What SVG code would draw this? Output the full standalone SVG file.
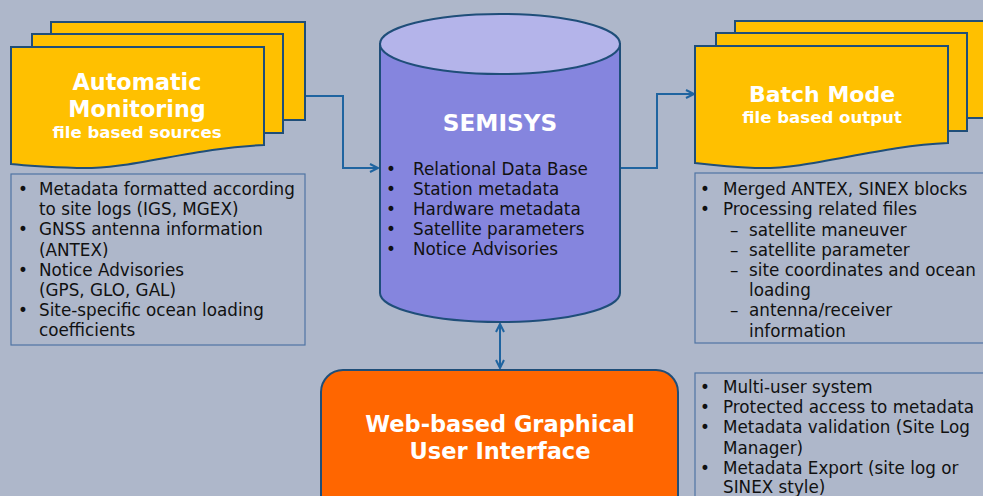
<svg xmlns="http://www.w3.org/2000/svg" width="983" height="496" viewBox="0 0 983 496">
<defs>
<style>
.sheet{fill:#ffc000;stroke:#1f4e79;stroke-width:2}
.title{font-family:Verdana,"DejaVu Sans",sans-serif;font-weight:bold;fill:#ffffff;text-anchor:middle}
.body{font-family:Verdana,"DejaVu Sans",sans-serif;font-size:16.8px;fill:#111111}
.box{fill:none;stroke:#4f74a3;stroke-width:1.2}
.conn{fill:none;stroke:#1f64a0;stroke-width:2}
</style>
<marker id="arr" markerUnits="userSpaceOnUse" markerWidth="12" markerHeight="12" refX="9" refY="5" orient="auto-start-reverse" viewBox="0 0 12 10">
<path d="M1,1 L9,5 L1,9" fill="none" stroke="#1f64a0" stroke-width="2"/>
</marker>
</defs>
<rect x="0" y="0" width="983" height="496" fill="#aeb7ca"/>

<g id="connectors">
<path class="conn" d="M305,96 H343 V168 H378" marker-end="url(#arr)"/>
<path class="conn" d="M620,168 H657 V94 H694" marker-end="url(#arr)"/>
<path class="conn" d="M500,324 V368" marker-start="url(#arr)" marker-end="url(#arr)"/>
</g>

<g id="automatic-monitoring">
<rect class="sheet" x="51" y="22" width="254" height="98"/>
<rect class="sheet" x="32" y="34" width="251" height="99"/>
<path class="sheet" d="M11,47 H264 V145 C190,148 130,170 77,168 C50,167 30,166 11,164 Z"/>
<text class="title" x="137" y="90" font-size="22.3">Automatic</text>
<text class="title" x="137" y="117" font-size="22.3">Monitoring</text>
<text class="title" x="137" y="138" font-size="16.6">file based sources</text>
</g>

<g id="sources-list">
<rect class="box" x="11" y="174" width="294" height="171"/>
<g class="body">
<text x="18" y="195">•</text><text x="39" y="195">Metadata formatted according</text>
<text x="39" y="215">to site logs (IGS, MGEX)</text>
<text x="18" y="235">•</text><text x="39" y="235">GNSS antenna information</text>
<text x="39" y="256">(ANTEX)</text>
<text x="18" y="276">•</text><text x="39" y="276">Notice Advisories</text>
<text x="39" y="296">(GPS, GLO, GAL)</text>
<text x="18" y="316">•</text><text x="39" y="316">Site-specific ocean loading</text>
<text x="39" y="336">coefficients</text>
</g>
</g>

<g id="semisys">
<path d="M380,44 V293 A120,29 0 0 0 620,293 V44 Z" fill="#8585de" stroke="#1f4e79" stroke-width="2"/>
<ellipse cx="500" cy="44" rx="120" ry="30" fill="#b4b4ea" stroke="#1f4e79" stroke-width="2"/>
<text class="title" x="500" y="131" font-size="23.2">SEMISYS</text>
<g class="body">
<text x="386" y="175">•</text><text x="413" y="175">Relational Data Base</text>
<text x="386" y="195">•</text><text x="413" y="195">Station metadata</text>
<text x="386" y="215">•</text><text x="413" y="215">Hardware metadata</text>
<text x="386" y="235">•</text><text x="413" y="235">Satellite parameters</text>
<text x="386" y="255">•</text><text x="413" y="255">Notice Advisories</text>
</g>
</g>

<g id="batch-mode">
<rect class="sheet" x="735" y="21" width="260" height="97"/>
<rect class="sheet" x="716" y="33" width="251" height="98"/>
<path class="sheet" d="M695,46 H948 V143 C875,146 810,170 755,168 C730,167 712,165 695,163 Z"/>
<text class="title" x="822" y="102" font-size="22">Batch Mode</text>
<text class="title" x="822" y="123" font-size="16.6">file based output</text>
</g>

<g id="output-list">
<rect class="box" x="695" y="173" width="300" height="170"/>
<g class="body">
<text x="700" y="195">•</text><text x="723" y="195">Merged ANTEX, SINEX blocks</text>
<text x="700" y="215">•</text><text x="723" y="215">Processing related files</text>
<text x="730" y="236">–</text><text x="749" y="236">satellite maneuver</text>
<text x="730" y="256">–</text><text x="749" y="256">satellite parameter</text>
<text x="730" y="276">–</text><text x="749" y="276">site coordinates and ocean</text>
<text x="749" y="296">loading</text>
<text x="730" y="316">–</text><text x="749" y="316">antenna/receiver</text>
<text x="749" y="337">information</text>
</g>
</g>

<g id="gui">
<rect x="321" y="370" width="357" height="150" rx="22" ry="22" fill="#ff6600" stroke="#1f4e79" stroke-width="2"/>
<text class="title" x="500" y="432" font-size="22.5">Web-based Graphical</text>
<text class="title" x="500" y="459" font-size="22.5">User Interface</text>
</g>

<g id="gui-list">
<rect class="box" x="695" y="373" width="300" height="140"/>
<g class="body">
<text x="700" y="393">•</text><text x="723" y="393">Multi-user system</text>
<text x="700" y="413">•</text><text x="723" y="413">Protected access to metadata</text>
<text x="700" y="433">•</text><text x="723" y="433">Metadata validation (Site Log</text>
<text x="723" y="454">Manager)</text>
<text x="700" y="474">•</text><text x="723" y="474">Metadata Export (site log or</text>
<text x="723" y="493">SINEX style)</text>
</g>
</g>
</svg>
